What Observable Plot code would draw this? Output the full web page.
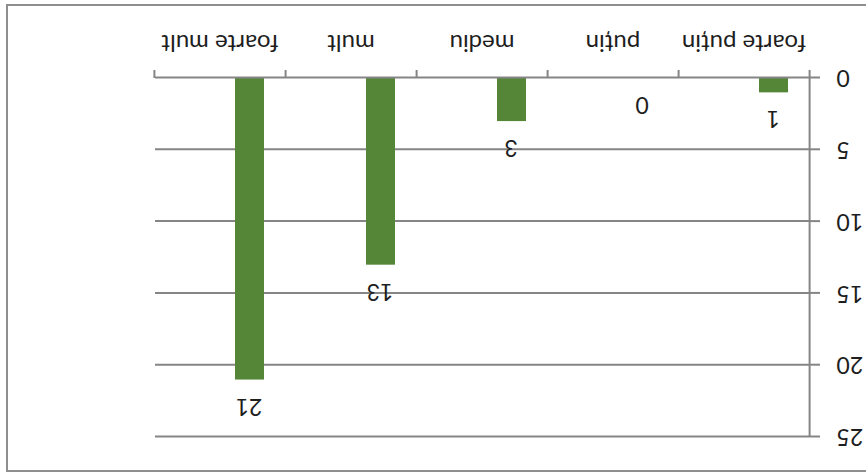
<!DOCTYPE html>
<html>
<head>
<meta charset="utf-8">
<script src="https://cdn.jsdelivr.net/npm/d3@7"></script>
<script src="https://cdn.jsdelivr.net/npm/@observablehq/plot@0.6"></script>
<style>
  html, body { margin: 0; padding: 0; background: #fff; overflow: hidden; }
  #wrap { position: relative; width: 866px; height: 475px; transform: rotate(180deg); transform-origin: 50% 50%; background: #fff; }
  #box { position: absolute; left: -4px; top: 3px; width: 864px; height: 468px; box-sizing: border-box; border: 2px solid #8e8e8e; pointer-events: none; }
  #chart { position: absolute; left: 0; top: 0; }
</style>
</head>
<body>
<div id="wrap"><div id="chart"></div><div id="box"></div></div>
<script>
const categories = ["foarte puțin", "puțin", "mediu", "mult", "foarte mult"];
const values = [1, 0, 3, 13, 21];
const yTicks = [0, 5, 10, 15, 20, 25];

const data = categories.map((c, i) => ({cat: c, value: values[i]}));

const W = 866, H = 475;
const mL = 55, mR = 155, mT = 38, mB = 78;
const bw = (W - mL - mR) / categories.length;
const gray = "#858585";

const chart = Plot.plot({
  width: W,
  height: H,
  marginLeft: mL,
  marginRight: mR,
  marginTop: mT,
  marginBottom: mB,
  style: {fontFamily: "Lato, 'Open Sans', sans-serif", fontSize: "24px", color: "#1e1e1e", background: "transparent"},
  x: {domain: categories, padding: 0},
  y: {domain: [0, 25]},
  marks: [
    Plot.ruleY(yTicks.slice(1), {stroke: gray, strokeWidth: 2}),
    Plot.barY(data, {x: "cat", y: "value", fill: "#558638", insetLeft: 22, insetRight: 80}),
    Plot.ruleY([0], {stroke: gray, strokeWidth: 2}),
    Plot.ruleX([categories[0]], {x: d => d, dx: -bw / 2, y1: 0, y2: 25, stroke: gray, strokeWidth: 2}),
    Plot.ruleX(categories, {x: d => d, dx: -bw / 2, y1: 0, y2: 0, insetTop: 8, stroke: gray, strokeWidth: 2}),
    Plot.ruleX([categories[categories.length - 1]], {x: d => d, dx: bw / 2, y1: 0, y2: 0, insetTop: 8, stroke: gray, strokeWidth: 2}),
    Plot.axisX({tickSize: 0, tickPadding: 25, label: null, fontSize: 24}),
    Plot.axisY({ticks: yTicks, tickSize: 9, tickPadding: 17, label: null, stroke: gray, strokeWidth: 2, fontSize: 23}),
    Plot.text(data, {x: "cat", y: "value", text: d => String(d.value), dx: -29, dy: -27, fontSize: 23, fill: "#1e1e1e"})
  ]
});
document.getElementById("chart").appendChild(chart);
</script>
</body>
</html>
